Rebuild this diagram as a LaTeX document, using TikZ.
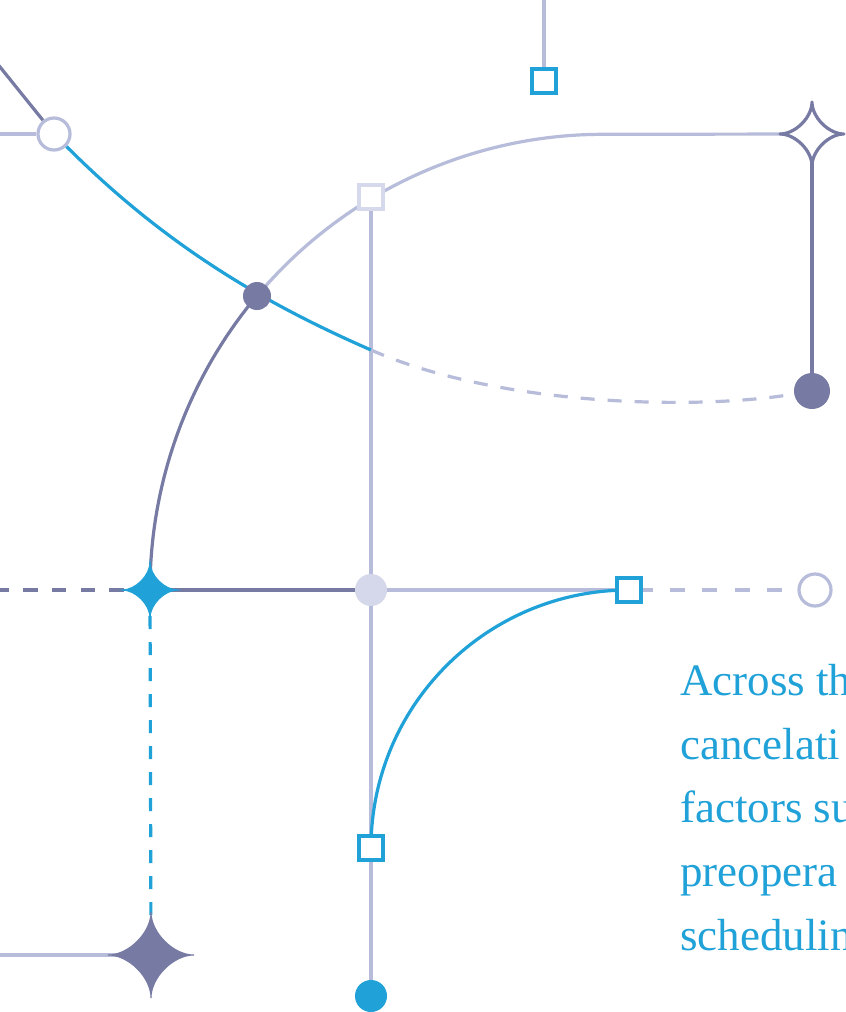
\documentclass[tikz,border=0pt]{standalone}
\usepackage{fontspec}
\setmainfont{Liberation Serif}
\usetikzlibrary{backgrounds}
\definecolor{cblue}{HTML}{20A2D9}
\definecolor{cdark}{HTML}{777BA3}
\definecolor{clight}{HTML}{B6BCDA}
\definecolor{cpale}{HTML}{D5D9EB}
\definecolor{cgrey}{HTML}{D5D8EA}
\tikzset{
  lnL/.style={line width=3.2pt, draw=clight},
  lnD/.style={line width=3.2pt, draw=cdark},
  lnB/.style={line width=3.2pt, draw=cblue},
  opencirc/.style={circle, inner sep=0pt, minimum size=32pt, line width=3.2pt, draw=clight, fill=white},
  dotn/.style={circle, inner sep=0pt, minimum size=#1},
  sqn/.style={rectangle, inner sep=0pt, minimum size=24pt, line width=3.6pt, fill=white},
  star4/.pic={\path[pic actions] (-1,0) .. controls (-0.52,0) and (0,-0.52) .. (0,-1)
     .. controls (0,-0.52) and (0.52,0) .. (1,0)
     .. controls (0.52,0) and (0,0.52) .. (0,1)
     .. controls (0,0.52) and (-0.52,0) .. (-1,0) -- cycle;},
  txt/.style={anchor=base west, inner sep=0pt, text=cblue, font=\fontsize{45pt}{54pt}\selectfont}
}
\begin{document}
\begin{tikzpicture}[x=1pt,y=1pt,yscale=-1]
\useasboundingbox (0,0) rectangle (846,1012);
\clip (0,0) rectangle (846,1012);
% nodes
\node[opencirc] (c1) at (54,134) {};
\node[sqn, draw=cblue] (sqT) at (544,81) {};
\node[sqn, draw=cpale] (sqL) at (371,197) {};
\node[dotn=28pt, fill=cdark] (dA) at (257,296) {};
\coordinate (stO) at (812,134);
\pic[draw=cdark, fill=white, line width=3.2pt, line join=round, scale=32] at (stO) {star4};
\node[dotn=36pt, fill=cdark] (dB) at (812,391) {};
\coordinate (stB) at (150,590);
\pic[fill=cblue, draw=cblue, line width=1pt, scale=28] at (stB) {star4};
\node[dotn=32pt, fill=cgrey] (dG) at (371,590) {};
\node[sqn, draw=cblue] (sqR) at (629,590) {};
\node[opencirc] (cR) at (815,590) {};
\node[sqn, draw=cblue] (sqB) at (371,848) {};
\coordinate (stP) at (151,955);
\pic[fill=cdark, draw=cdark, line width=1pt, scale=43] at (stP) {star4};
\node[dotn=32pt, fill=cblue] (dBl) at (371,996) {};
% free ends
\coordinate (eT) at (544,-5);
\coordinate (eL1) at (-5,134);
\coordinate (eD) at (-8,57);
\coordinate (eL2) at (-5.5,590);
\coordinate (eL3) at (-5,955);
\coordinate (sp) at (371,350);
% text
\node[txt] (t1) at (680,695) {Across th};
\node[txt] (t2) at (680,759) {cancelati};
\node[txt] (t3) at (680,822) {factors su};
\node[txt] (t4) at (680,886) {preopera};
\node[txt] (t5) at (680,950) {schedulin};
% connectors
\begin{scope}[on background layer]
\fill[white] (0,0) rectangle (846,1012);
\clip (0,0) rectangle (846,1012);
\draw[lnL] (eT) -- (sqT);
\draw[lnL] (eL1) -- (c1);
\draw[lnD] (eD) -- (c1);
\draw[lnL] (sqL) -- (dBl);
\draw[lnB] (c1) .. controls (164,244) and (261,302) .. (sp);
\draw[lnL, dash pattern=on 14pt off 13pt] (sp) .. controls (501,407) and (700,410) .. (dB);
\draw[lnD] (stB) arc[start angle=180, end angle=220.2, x radius=453, y radius=456];
\draw[lnL] (dA.center) arc[start angle=220.2, end angle=270, x radius=453, y radius=456] -- (stO);
\draw[lnD] (stO) -- (dB);
\draw[lnD, dash pattern=on 14.5pt off 14.2pt] (eL2) -- (stB);
\draw[lnD] (stB) -- (dG);
\draw[lnL] (dG) -- (sqR);
\draw[lnL, dash pattern=on 15pt off 17.3pt, dash phase=5pt] (sqR) -- (cR);
\draw[lnB] (sqB.center) arc[start angle=180, end angle=270, radius=258];
\draw[lnB, dash pattern=on 13pt off 13pt] (stB) -- (stP);
\draw[lnL] (eL3) -- (stP);
\end{scope}
\end{tikzpicture}
\end{document}
